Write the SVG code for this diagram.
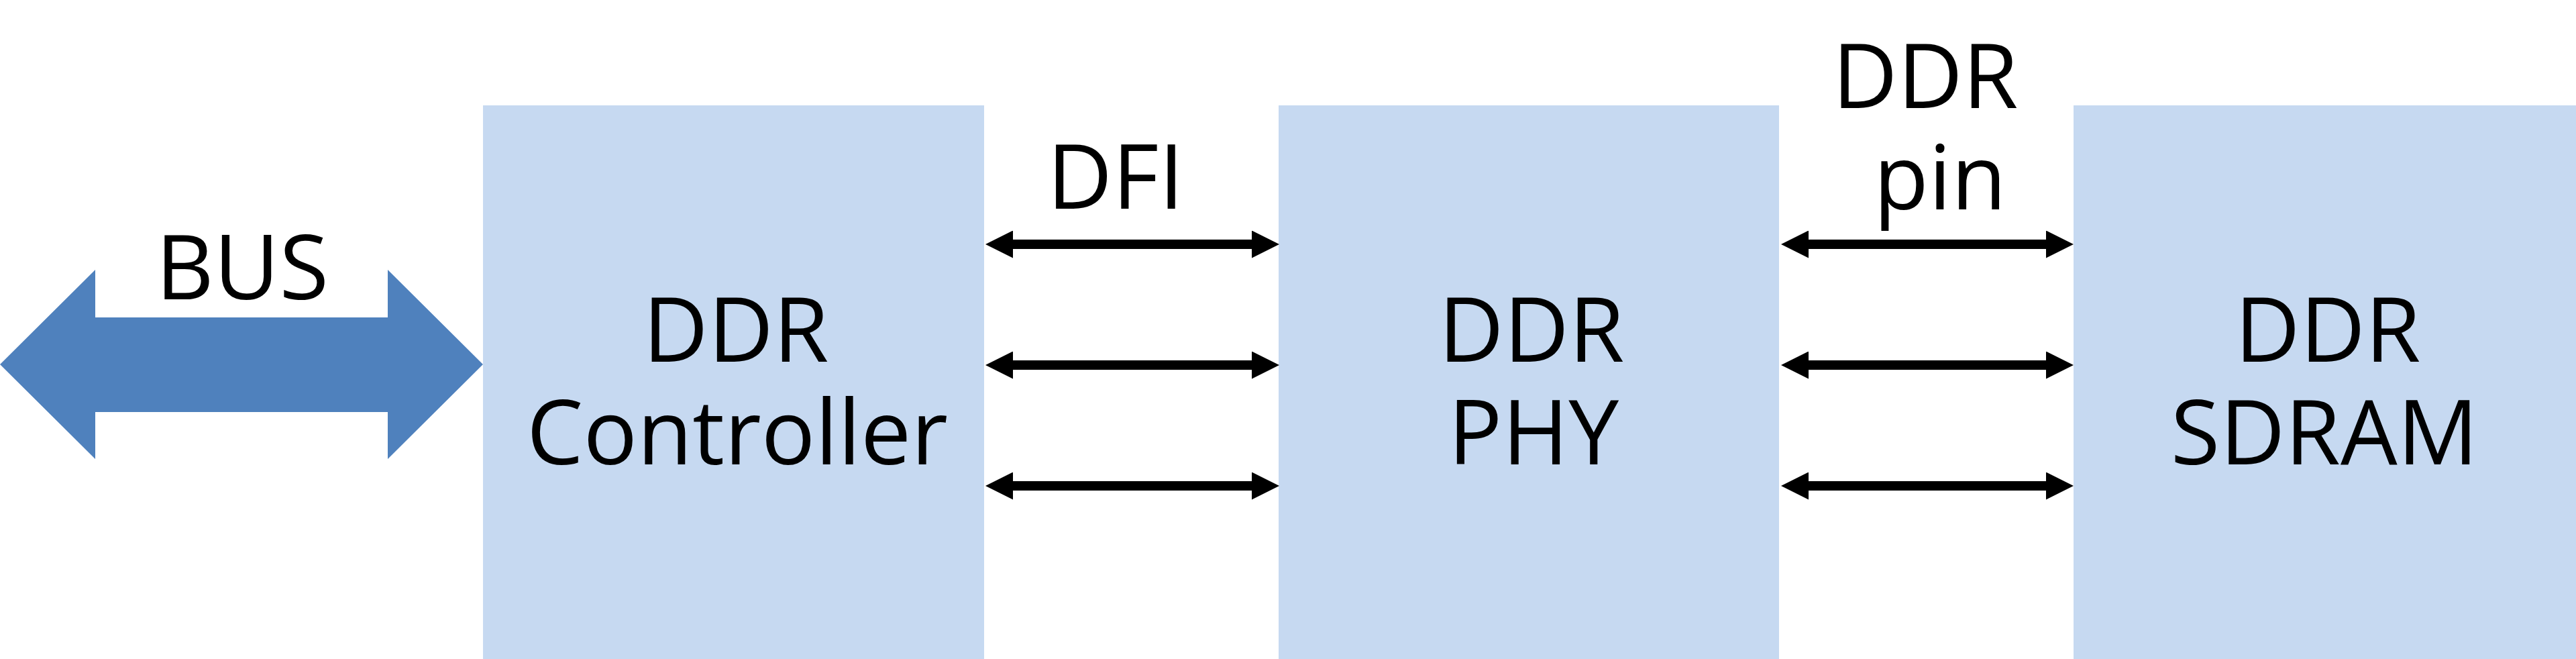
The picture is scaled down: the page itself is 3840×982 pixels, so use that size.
<svg xmlns="http://www.w3.org/2000/svg" width="3840" height="982" viewBox="0 0 3840 982">
<style>
.box{fill:#C6D9F1}
.t{font-family:"Open Sans","Noto Sans","Liberation Sans",sans-serif;font-size:134px;fill:#000;text-anchor:middle}
.link{stroke:#000;stroke-width:14;fill:none;marker-start:url(#ah);marker-end:url(#ah)}
</style>
<defs>
<marker id="ah" markerUnits="userSpaceOnUse" markerWidth="41" markerHeight="41" viewBox="0 0 41 41" refX="0" refY="20.5" orient="auto-start-reverse">
<path d="M0,0 L41,20.5 L0,41 z" fill="#000"/>
</marker>
</defs>
<rect width="3840" height="982" fill="#fff"/>
<g id="bus">
<polygon points="0,543 142,402 142,473 578,473 578,402 720,543 578,684 578,614 142,614 142,684" fill="#4F81BD"/>
<text class="t" x="361" y="446">BUS</text>
</g>
<g id="controller">
<rect class="box" x="720" y="157" width="747" height="825"/>
<text class="t" x="1097" y="539">DDR</text>
<text class="t" x="1099" y="692">Controller</text>
</g>
<g id="phy">
<rect class="box" x="1906" y="157" width="746" height="825"/>
<text class="t" x="2283" y="539">DDR</text>
<text class="t" x="2286" y="692">PHY</text>
</g>
<g id="sdram">
<rect class="box" x="3091" y="157" width="749" height="825"/>
<text class="t" x="3470" y="539">DDR</text>
<text class="t" x="3465" y="692">SDRAM</text>
</g>
<g id="connectors">
<line class="link" x1="1510" y1="364" x2="1866" y2="364"/>
<line class="link" x1="1510" y1="544" x2="1866" y2="544"/>
<line class="link" x1="1510" y1="724" x2="1866" y2="724"/>
<line class="link" x1="2696" y1="364" x2="3050" y2="364"/>
<line class="link" x1="2696" y1="544" x2="3050" y2="544"/>
<line class="link" x1="2696" y1="724" x2="3050" y2="724"/>
</g>
<g id="labels">
<text class="t" x="1663" y="311">DFI</text>
<text class="t" x="2870" y="161">DDR</text>
<text class="t" x="2892" y="312">pin</text>
</g>
</svg>
